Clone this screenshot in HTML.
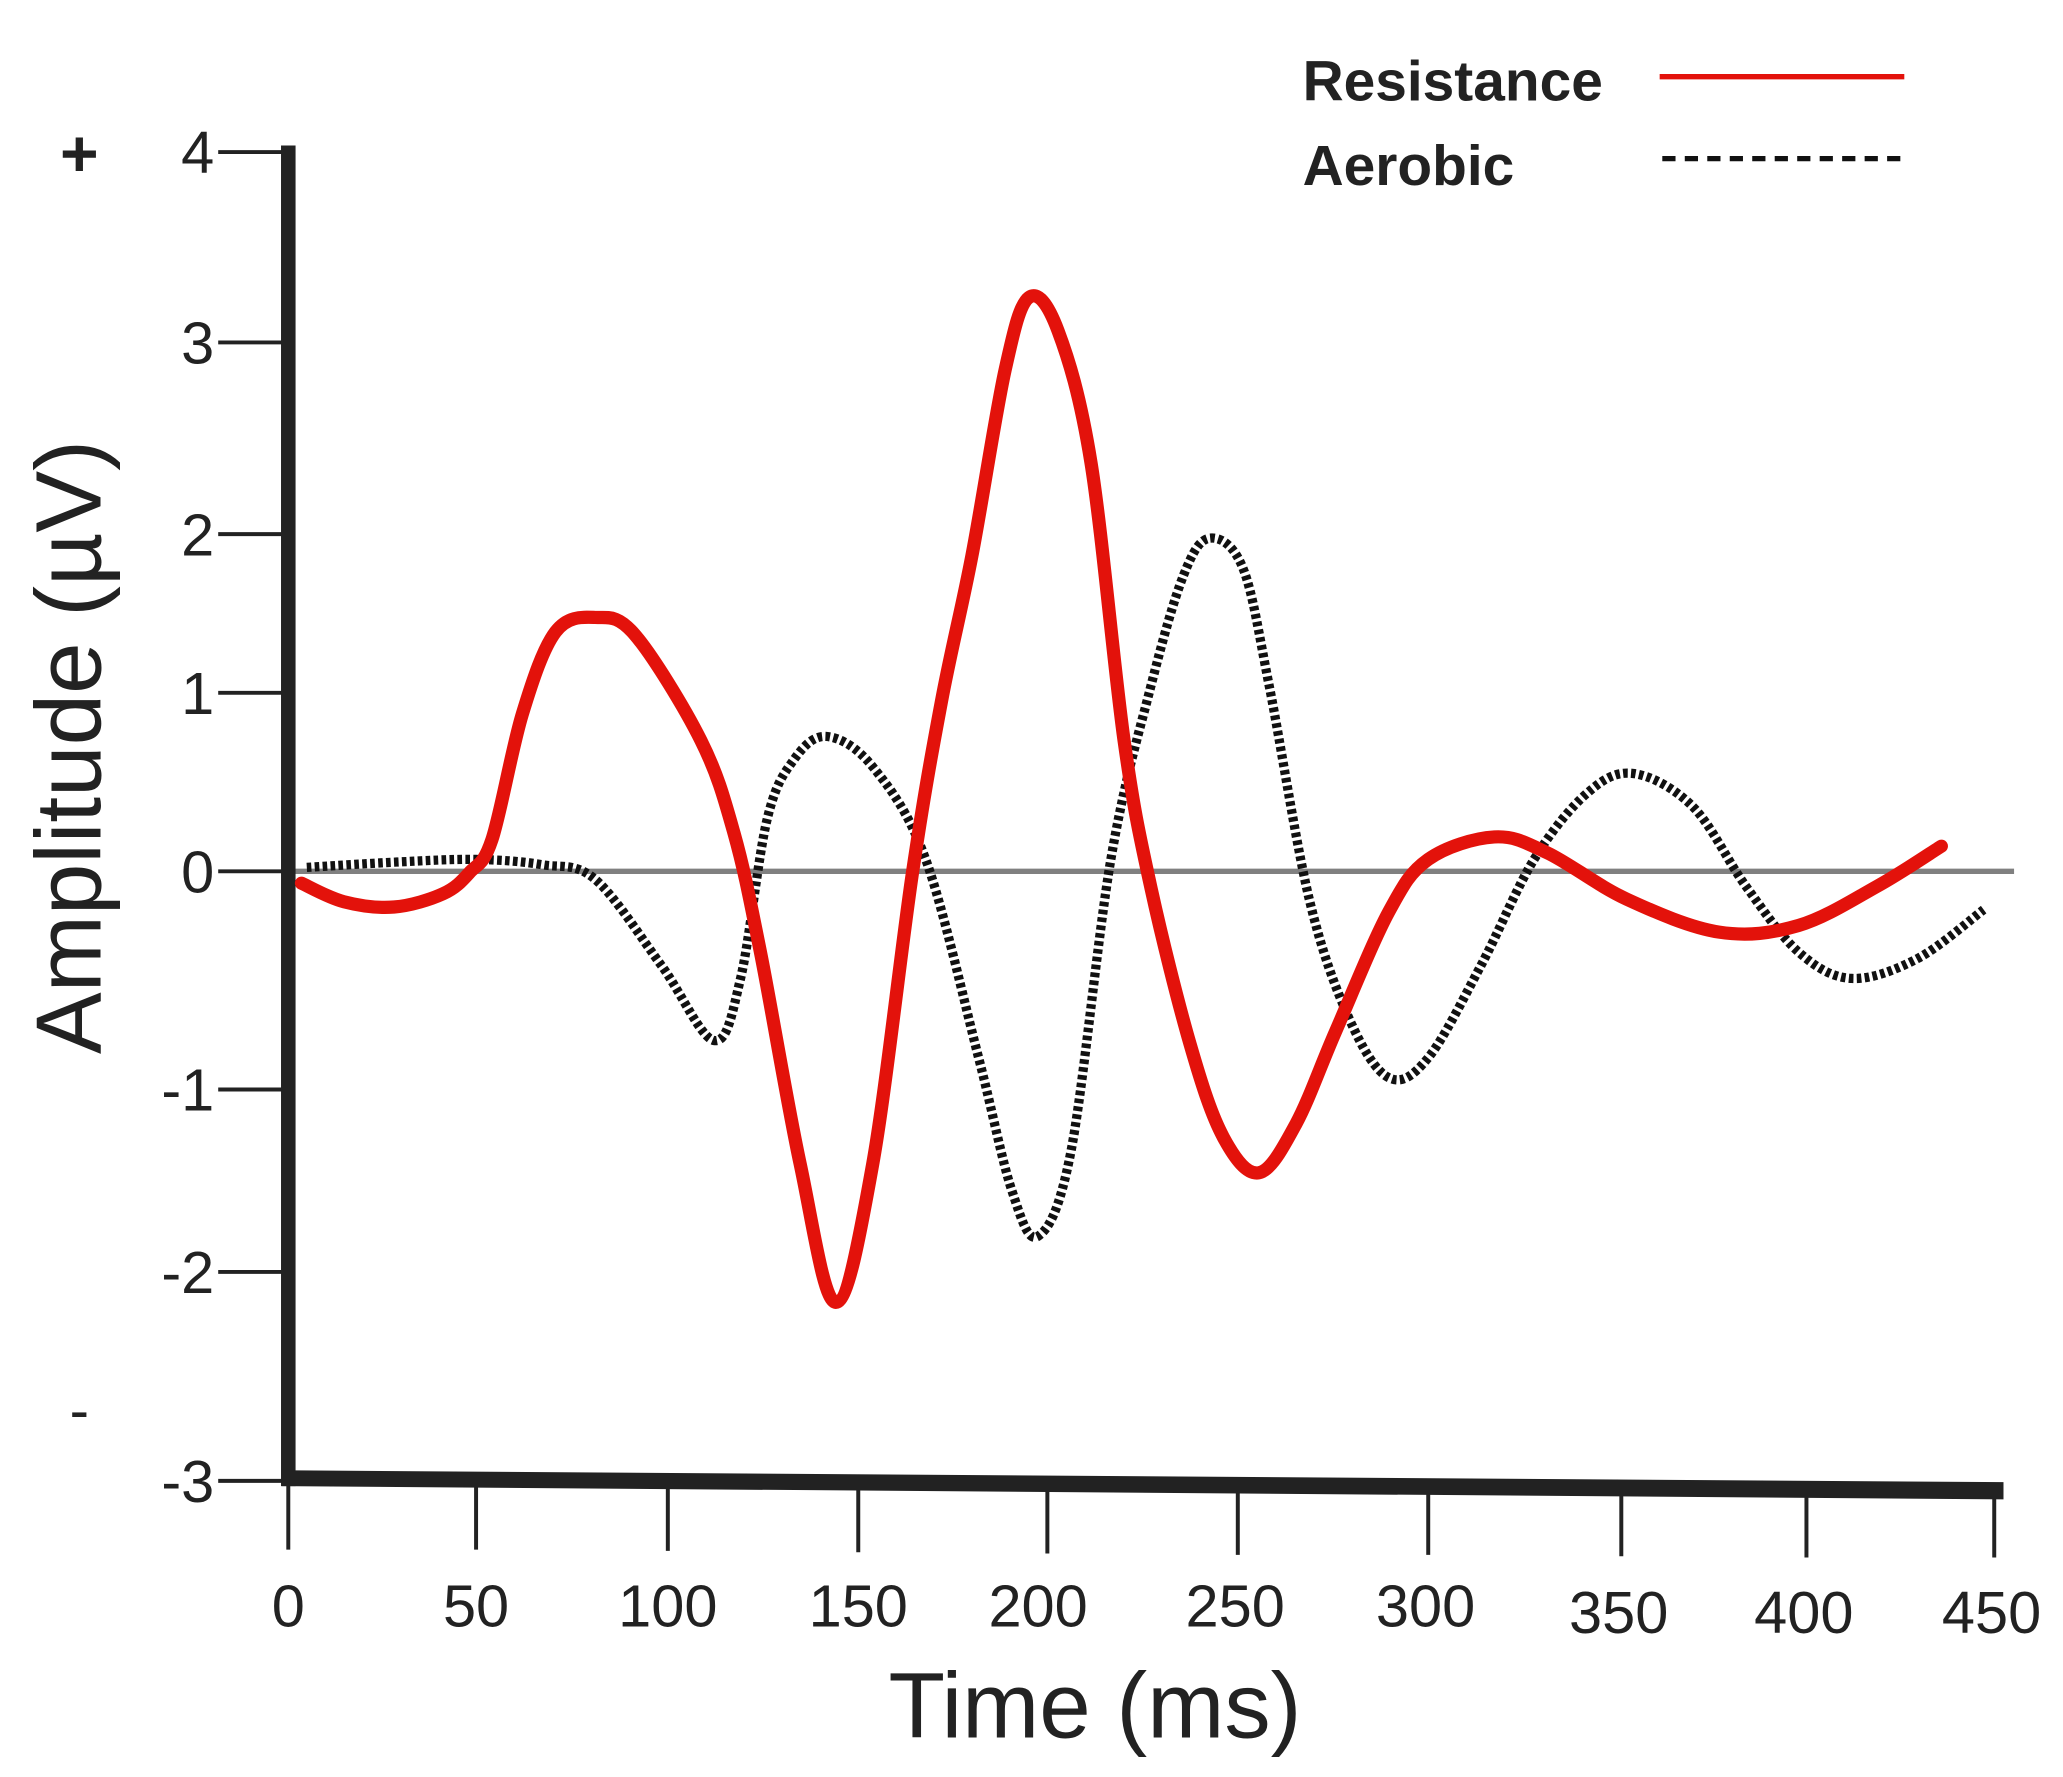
<!DOCTYPE html>
<html><head><meta charset="utf-8"><style>
html,body{margin:0;padding:0;background:#fff;}
svg{display:block;}
text{font-family:"Liberation Sans",sans-serif;fill:#222;}
</style></head><body>
<svg id="s" width="2063" height="1777" viewBox="0 0 1560 1344" preserveAspectRatio="none" xmlns="http://www.w3.org/2000/svg">
<rect width="1560" height="1344" fill="#fff"/>
<line x1="218" y1="659" x2="1523" y2="659" stroke="#808080" stroke-width="4"/>
<g stroke="#222" stroke-width="3">
<line x1="165" y1="115" x2="218" y2="115"/><line x1="165" y1="259" x2="218" y2="259"/>
<line x1="165" y1="404" x2="218" y2="404"/><line x1="165" y1="524" x2="218" y2="524"/>
<line x1="165" y1="659" x2="218" y2="659"/><line x1="165" y1="824" x2="218" y2="824"/>
<line x1="165" y1="962" x2="218" y2="962"/><line x1="165" y1="1120" x2="218" y2="1120"/>
<line x1="218" y1="1120" x2="218" y2="1172"/><line x1="360" y1="1122" x2="360" y2="1172"/>
<line x1="505" y1="1123" x2="505" y2="1173"/><line x1="649" y1="1124" x2="649" y2="1174"/>
<line x1="792" y1="1125" x2="792" y2="1175"/><line x1="936" y1="1126" x2="936" y2="1176"/>
<line x1="1080" y1="1126" x2="1080" y2="1176"/><line x1="1226" y1="1127" x2="1226" y2="1177"/>
<line x1="1366" y1="1128" x2="1366" y2="1178"/><line x1="1508" y1="1128" x2="1508" y2="1178"/>
</g>
<line x1="218" y1="110" x2="218" y2="1124" stroke="#222" stroke-width="11"/>
<polygon points="213,1112 1515,1121 1515,1134 213,1124" fill="#222"/>
<g font-size="45" text-anchor="end">
<text x="162" y="131">4</text><text x="162" y="275">3</text><text x="162" y="420">2</text>
<text x="162" y="540">1</text><text x="162" y="675">0</text><text x="162" y="840">-1</text>
<text x="162" y="978">-2</text><text x="162" y="1136">-3</text>
</g>
<g font-size="45" text-anchor="middle">
<text x="218" y="1230">0</text><text x="360" y="1230">50</text><text x="505" y="1230">100</text>
<text x="649" y="1230">150</text><text x="785" y="1230">200</text><text x="934" y="1230">250</text>
<text x="1078" y="1230">300</text><text x="1224" y="1235">350</text><text x="1364" y="1235">400</text>
<text x="1506" y="1235">450</text>
</g>
<text x="60" y="133" font-size="50" text-anchor="middle" font-weight="bold">+</text>
<text x="60" y="1082" font-size="44" text-anchor="middle">-</text>
<text x="828" y="1314" font-size="70" text-anchor="middle">Time (ms)</text>
<text transform="translate(76,565) rotate(-90)" font-size="70" text-anchor="middle">Amplitude (µV)</text>
<text x="985" y="76" font-size="43" font-weight="bold">Resistance</text>
<text x="985" y="140" font-size="43" font-weight="bold">Aerobic</text>
<line x1="1255" y1="58" x2="1440" y2="58" stroke="#e3120b" stroke-width="4"/>
<line x1="1257" y1="120" x2="1440" y2="120" stroke="#111" stroke-width="4" stroke-dasharray="10 7"/>
<path id="aer" fill="none" stroke="#111" stroke-width="7" stroke-dasharray="3.5 2.5"/>
<path id="res" fill="none" stroke="#e3120b" stroke-width="10" stroke-linecap="round"/>
</svg>
<script>
function cr(p){var d="M"+p[0][0]+","+p[0][1];for(var i=0;i<p.length-1;i++){var a=p[i-1]||p[i],b=p[i],c=p[i+1],e=p[i+2]||c;
d+=" C"+(b[0]+(c[0]-a[0])/6)+","+(b[1]+(c[1]-a[1])/6)+" "+(c[0]-(e[0]-b[0])/6)+","+(c[1]-(e[1]-b[1])/6)+" "+c[0]+","+c[1];}return d;}
var R=[[228,668],[260,682],[298,686],[335,676],[355,660],[372,635],[395,540],[420,478],[450,467],[480,480],[530,560],[555,630],[575,720],[605,880],[632,985],[660,880],[690,660],[712,530],[735,420],[760,280],[778,225],[800,250],[825,350],[850,560],[870,670],[900,790],[925,860],[952,887],[980,850],[1010,780],[1050,690],[1080,650],[1130,633],[1170,645],[1230,680],[1300,705],[1360,700],[1420,670],[1468,640]];
var A=[[232,656],[300,652],[360,650],[410,654],[450,665],[500,730],[540,787],[560,740],[580,620],[600,575],[625,557],[660,580],[700,650],[740,800],[765,900],[785,935],[810,870],[840,650],[870,520],[895,435],[915,407],[940,430],[960,520],[990,680],[1020,770],[1050,815],[1080,800],[1120,730],[1160,650],[1200,600],[1235,585],[1280,610],[1320,670],[1360,720],[1400,740],[1450,725],[1500,688]];
document.getElementById("res").setAttribute("d",cr(R));
document.getElementById("aer").setAttribute("d",cr(A));
</script>
</body></html>
